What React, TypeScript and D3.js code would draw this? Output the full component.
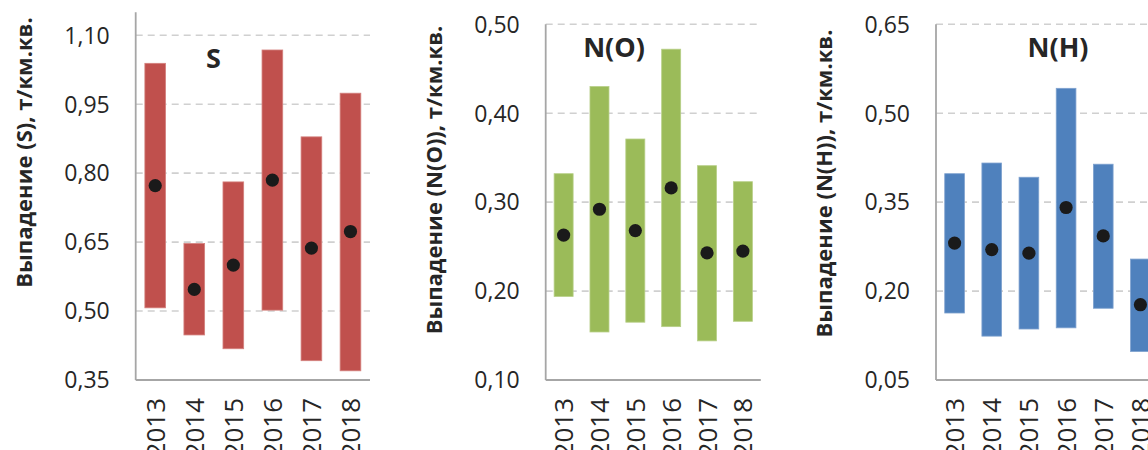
import React from "react";
import * as d3 from "d3";

const years = ["2013", "2014", "2015", "2016", "2017", "2018"];

const sMin = [0.507, 0.448, 0.418, 0.502, 0.392, 0.370];
const sMax = [1.039, 0.647, 0.781, 1.068, 0.879, 0.974];
const sMean = [0.773, 0.547, 0.600, 0.785, 0.637, 0.673];
const sTicks = [0.35, 0.5, 0.65, 0.8, 0.95, 1.1];

const noMin = [0.194, 0.154, 0.165, 0.160, 0.144, 0.166];
const noMax = [0.332, 0.430, 0.371, 0.472, 0.341, 0.323];
const noMean = [0.263, 0.292, 0.268, 0.316, 0.243, 0.245];
const noTicks = [0.1, 0.2, 0.3, 0.4, 0.5];

const nhMin = [0.163, 0.124, 0.136, 0.138, 0.171, 0.098];
const nhMax = [0.398, 0.416, 0.392, 0.542, 0.414, 0.254];
const nhMean = [0.281, 0.270, 0.264, 0.341, 0.293, 0.177];
const nhTicks = [0.05, 0.2, 0.35, 0.5, 0.65];

const fmt = (v: number) => v.toFixed(2).replace(".", ",");

type PanelProps = {
  x0: number;
  x1: number;
  yTop: number;
  domain: [number, number];
  ticks: number[];
  mins: number[];
  maxs: number[];
  means: number[];
  color: string;
  stroke: string;
  label: string;
  labelX: number;
  labelY: number;
  title: string;
  titleX: number;
  titleY: number;
};

const FONT = "'Open Sans', 'DejaVu Sans', sans-serif";

function Panel(p: PanelProps) {
  const yBottom = 380;
  const y = d3.scaleLinear().domain(p.domain).range([yBottom, p.yTop]);
  const x = d3
    .scaleBand<string>()
    .domain(years)
    .range([p.x0, p.x1])
    .paddingInner(0.47)
    .paddingOuter(0.235);
  const bw = x.bandwidth();
  return (
    <g>
      {p.ticks.slice(1).map((t) => (
        <line
          key={"g" + t}
          x1={p.x0}
          x2={p.x1}
          y1={y(t)}
          y2={y(t)}
          stroke="#D0D0D0"
          strokeWidth={1.6}
          strokeDasharray="7,5"
        />
      ))}
      {years.map((yr, i) => (
        <rect
          key={"b" + yr}
          x={x(yr)!}
          y={y(p.maxs[i])}
          width={bw}
          height={y(p.mins[i]) - y(p.maxs[i])}
          fill={p.color}
          stroke={p.stroke}
          strokeWidth={0.8}
        />
      ))}
      {years.map((yr, i) => (
        <circle
          key={"c" + yr}
          cx={x(yr)! + bw / 2}
          cy={y(p.means[i])}
          r={6.6}
          fill="#1A1A1A"
        />
      ))}
      <line x1={p.x0} x2={p.x0} y1={p.yTop} y2={yBottom} stroke="#A6A6A6" strokeWidth={1.8} />
      <line x1={p.x0} x2={p.x1} y1={yBottom} y2={yBottom} stroke="#A6A6A6" strokeWidth={1.8} />
      {p.ticks.map((t) => (
        <text
          key={"t" + t}
          x={p.x0 - 26}
          y={y(t)}
          dy="0.36em"
          textAnchor="end"
          fontSize={23}
          fill="#262626"
          fontFamily={FONT}
        >
          {fmt(t)}
        </text>
      ))}
      {years.map((yr) => (
        <text
          key={"y" + yr}
          transform={`translate(${x(yr)! + bw / 2 + 9.5},${yBottom + 18}) rotate(-90)`}
          textAnchor="end"
          fontSize={26}
          fill="#262626"
          fontFamily={FONT}
        >
          {yr}
        </text>
      ))}
      <text
        x={p.labelX}
        y={p.labelY}
        textAnchor="middle"
        fontSize={27}
        fontWeight="bold"
        fill="#262626"
        fontFamily={FONT}
      >
        {p.label}
      </text>
      <text
        transform={`translate(${p.titleX},${p.titleY}) rotate(-90)`}
        textAnchor="middle"
        fontSize={22}
        fontWeight="bold"
        fill="#262626"
        fontFamily={FONT}
      >
        {p.title}
      </text>
    </g>
  );
}

export default function App() {
  return (
    <svg
      width={1148}
      height={450}
      style={{ position: "absolute", left: 0, top: 0, background: "#fff" }}
    >
      <Panel
        x0={135.7}
        x1={370}
        yTop={12.3}
        domain={[0.35, 1.15]}
        ticks={sTicks}
        mins={sMin}
        maxs={sMax}
        means={sMean}
        color="#C0504D"
        stroke="#D4817E"
        label="S"
        labelX={213.5}
        labelY={68}
        title="Выпадение (S), т/км.кв."
        titleX={32}
        titleY={152.5}
      />
      <Panel
        x0={545.7}
        x1={760.8}
        yTop={24.3}
        domain={[0.1, 0.5]}
        ticks={noTicks}
        mins={noMin}
        maxs={noMax}
        means={noMean}
        color="#9BBB59"
        stroke="#B7CF87"
        label="N(O)"
        labelX={614}
        labelY={57}
        title="Выпадение (N(O)), т/км.кв."
        titleX={441.5}
        titleY={180}
      />
      <Panel
        x0={936}
        x1={1159}
        yTop={24.3}
        domain={[0.05, 0.65]}
        ticks={nhTicks}
        mins={nhMin}
        maxs={nhMax}
        means={nhMean}
        color="#4F81BD"
        stroke="#7FA2CF"
        label="N(H)"
        labelX={1058}
        labelY={57}
        title="Выпадение (N(H)), т/км.кв."
        titleX={832}
        titleY={183.5}
      />
    </svg>
  );
}
